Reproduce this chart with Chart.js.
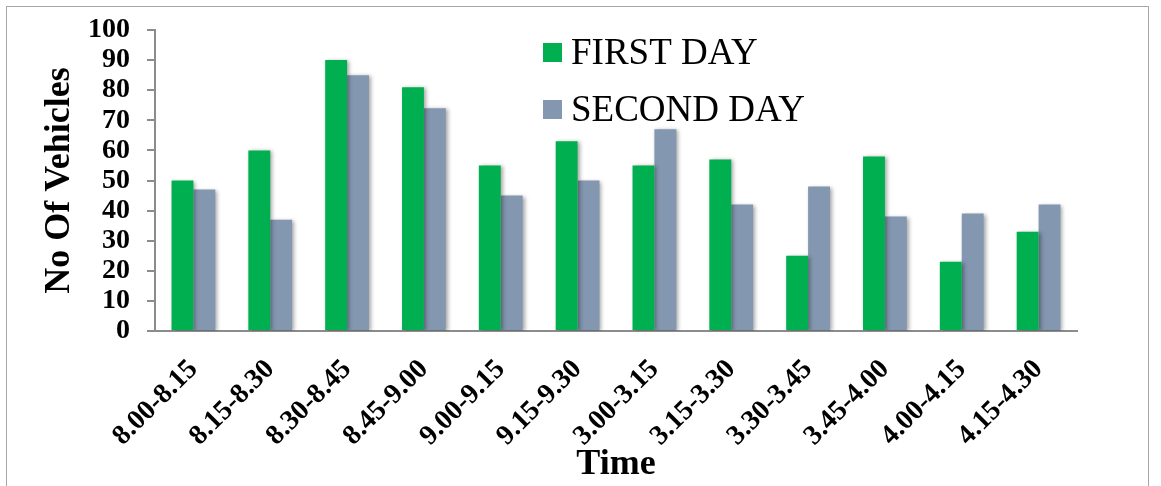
<!DOCTYPE html>
<html>
<head>
<meta charset="utf-8">
<script src="https://cdn.jsdelivr.net/npm/chart.js@4"></script>
<style>
  html, body { margin: 0; padding: 0; background: #fff; overflow: hidden; }
  #wrap { position: relative; width: 1161px; height: 486px; }
  #frame { position: absolute; left: 6px; top: 6px; width: 1141px; height: 500px; border: 1px solid #a6a6a6; }
  #myChart { position: absolute; left: 0; top: 0; }
</style>
</head>
<body>
<div id="wrap">
  <div id="frame"></div>
  <canvas id="myChart" width="1161" height="486"></canvas>
</div>
<script>
'use strict';
//chart data
var timeLabels = ['8.00-8.15', '8.15-8.30', '8.30-8.45', '8.45-9.00', '9.00-9.15', '9.15-9.30',
  '3.00-3.15', '3.15-3.30', '3.30-3.45', '3.45-4.00', '4.00-4.15', '4.15-4.30'];
var firstDay = [50, 60, 90, 81, 55, 63, 55, 57, 25, 58, 23, 33];
var secondDay = [47, 37, 85, 74, 45, 50, 67, 42, 48, 38, 39, 42];
var seriesNames = ['FIRST DAY', 'SECOND DAY'];
var seriesColors = ['#00b050', '#8497b0'];

var fontFamily = "'Liberation Serif', 'Times New Roman', serif";
var axisGray = '#8c8c8c';

//soft shadow on the bars like the original
var barShadow = {
  id: 'barShadow',
  beforeDatasetsDraw: function (chart) {
    var ctx = chart.ctx;
    ctx.save();
    ctx.shadowColor = 'rgba(0,0,0,0.35)';
    ctx.shadowBlur = 4;
    ctx.shadowOffsetX = 2;
    ctx.shadowOffsetY = 1;
  },
  afterDatasetsDraw: function (chart) {
    chart.ctx.restore();
  }
};

//legend drawn inside the plot, top middle
var innerLegend = {
  id: 'innerLegend',
  afterDraw: function (chart) {
    var ctx = chart.ctx;
    ctx.save();
    ctx.font = '37px ' + fontFamily;
    ctx.textBaseline = 'middle';
    ctx.textAlign = 'left';
    var datasets = chart.data.datasets;
    for (var i = 0; i < datasets.length; i++) {
      var y = 53 + i * 57;
      ctx.fillStyle = datasets[i].backgroundColor;
      ctx.fillRect(543, y - 10, 19, 19);
      ctx.fillStyle = '#000';
      ctx.fillText(datasets[i].label, 571, y + 1);
    }
    ctx.restore();
  }
};

var ctx = document.getElementById('myChart').getContext('2d');
var chart = new Chart(ctx, {
  type: 'bar',
  data: {
    labels: timeLabels,
    datasets: [{
      label: seriesNames[0],
      backgroundColor: seriesColors[0],
      data: firstDay,
    },
    {
      label: seriesNames[1],
      backgroundColor: seriesColors[1],
      data: secondDay,
    }],
  },
  options: {
    responsive: false,
    animation: false,
    devicePixelRatio: 1,
    layout: { padding: { top: 30, right: 84, left: 0, bottom: 0 } },
    datasets: {
      bar: { categoryPercentage: 0.57, barPercentage: 1.0 }
    },
    plugins: {
      legend: { display: false },
      tooltip: { enabled: false }
    },
    scales: {
      x: {
        grid: { display: false },
        border: { display: true, color: axisGray, width: 2 },
        ticks: {
          color: '#000',
          font: { family: fontFamily, size: 28, weight: 'bold' },
          maxRotation: 45,
          minRotation: 45,
          autoSkip: false,
          padding: 14
        },
        title: {
          display: true,
          text: 'Time',
          color: '#000',
          font: { family: fontFamily, size: 36, weight: 'bold' },
          padding: { top: 0, bottom: 0 }
        },
        afterFit: function (scale) { scale.height = 155; }
      },
      y: {
        min: 0,
        max: 100,
        ticks: {
          stepSize: 10,
          autoSkip: false,
          color: '#000',
          font: { family: fontFamily, size: 28, weight: 'bold' },
          padding: 17
        },
        grid: { drawOnChartArea: false, drawTicks: true, tickLength: 8, color: axisGray, lineWidth: 2 },
        border: { display: true, color: axisGray, width: 2 },
        title: {
          display: true,
          text: 'No Of Vehicles',
          color: '#000',
          font: { family: fontFamily, size: 36, weight: 'bold' },
          padding: { top: 38, bottom: 0 }
        },
        afterFit: function (scale) {
          scale.width = 155;
          scale.paddingTop = 0;
        }
      }
    }
  },
  plugins: [barShadow, innerLegend]
});
</script>
</body>
</html>
